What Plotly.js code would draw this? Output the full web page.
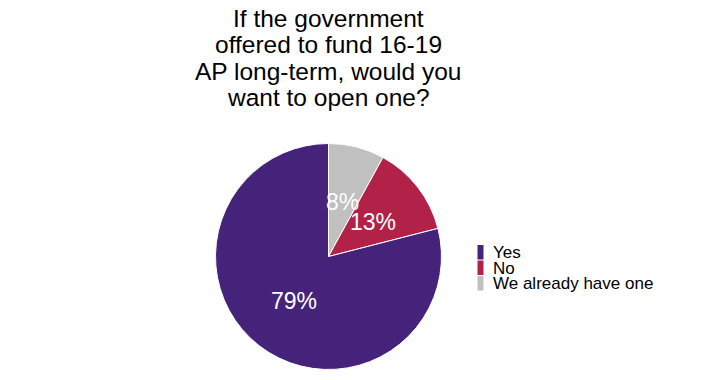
<!DOCTYPE html>
<html>
<head>
<meta charset="utf-8">
<script src="https://cdn.plot.ly/plotly-3.0.1.min.js"></script>
<style>html,body{margin:0;padding:0;background:#fff;}#chart{width:716px;height:380px;}</style>
</head>
<body>
<div id="chart"></div>
<script>
const categories = ["Yes", "No", "We already have one"];
const values = [79, 13, 8];
const colors = ["#46237b", "#b22248", "#c0c0c0"];
const titleLines = ["If the government", "offered to fund 16-19", "AP long-term, would you", "want to open one?"];

const W = 716, H = 380;
const FONT = "Liberation Sans, Arial, sans-serif";
const CX = 328.5, CY = 256.5, R = 113;

const annotations = [];
const titleCenters = [18, 44.5, 71, 97];
titleLines.forEach((t, i) => {
  annotations.push({
    text: t, xref: "paper", yref: "paper", x: 328 / W, y: 1 - titleCenters[i] / H,
    xanchor: "center", yanchor: "middle", showarrow: false,
    font: {family: FONT, size: 24.5, color: "#000"}
  });
});

// legend
const shapes = [];
const legTop = 245, legStep = 15.5;
categories.forEach((c, i) => {
  const y0 = legTop + i * legStep;
  shapes.push({
    type: "rect", xref: "paper", yref: "paper",
    x0: 477.5 / W, x1: 483.5 / W, y0: 1 - (y0 + 14.5) / H, y1: 1 - y0 / H,
    fillcolor: colors[i], line: {width: 0}
  });
  annotations.push({
    text: c, xref: "paper", yref: "paper", x: 491 / W, y: 1 - (y0 + 7.5) / H,
    xanchor: "left", yanchor: "middle", showarrow: false,
    font: {family: FONT, size: 17, color: "#000"}
  });
});

// pie drawn clockwise from 12 o'clock in reverse legend order
const rev = a => a.slice().reverse();
const pieLabels = rev(categories), pieValues = rev(values);

// percentage labels at the middle angle of each slice, half way out
const total = pieValues.reduce((s, v) => s + v, 0);
let acc = 0;
pieValues.forEach((v) => {
  const mid = (acc + v / 2) / total * 2 * Math.PI;
  acc += v;
  const px = CX + 0.5 * R * Math.sin(mid);
  const py = CY - 0.5 * R * Math.cos(mid);
  annotations.push({
    text: Math.round(v / total * 100) + "%", xref: "paper", yref: "paper",
    x: px / W, y: 1 - py / H, xanchor: "center", yanchor: "middle", showarrow: false,
    font: {family: FONT, size: 23, color: "#ffffff"}
  });
});

const trace = {
  type: "pie",
  labels: pieLabels,
  values: pieValues,
  sort: false,
  direction: "clockwise",
  rotation: 0,
  marker: {colors: rev(colors), line: {color: "#ffffff", width: 1}},
  textinfo: "none",
  hoverinfo: "none",
  domain: {x: [(CX - R) / W, (CX + R) / W], y: [1 - (CY + R) / H, 1 - (CY - R) / H]},
  showlegend: false
};

const layout = {
  width: W, height: H,
  margin: {l: 0, r: 0, t: 0, b: 0},
  paper_bgcolor: "#ffffff",
  plot_bgcolor: "#ffffff",
  showlegend: false,
  annotations: annotations,
  shapes: shapes
};

Plotly.newPlot("chart", [trace], layout, {displayModeBar: false, staticPlot: true});
</script>
</body>
</html>
